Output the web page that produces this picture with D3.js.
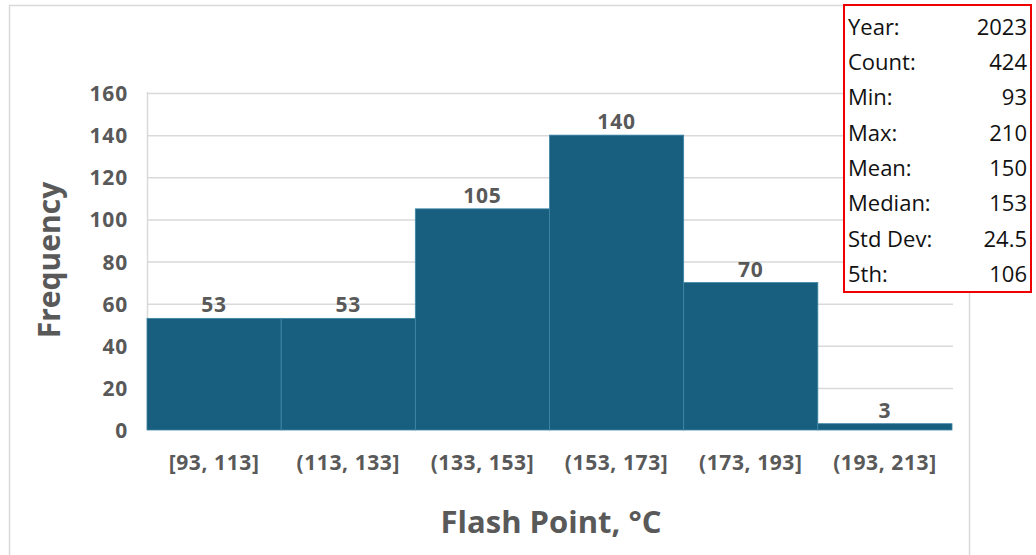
<!DOCTYPE html>
<html><head><meta charset="utf-8">
<script src="https://cdn.jsdelivr.net/npm/d3@7"></script>
<style>
html,body{margin:0;padding:0;background:#fff;}
svg{display:block;}
</style></head>
<body>
<svg id="chart" width="1036" height="555"></svg>
<script>
const categories = ["[93, 113]", "(113, 133]", "(133, 153]", "(153, 173]", "(173, 193]", "(193, 213]"];
const frequencies = [53, 53, 105, 140, 70, 3];
const yTicks = [0, 20, 40, 60, 80, 100, 120, 140, 160];
const statLabels = ["Year:", "Count:", "Min:", "Max:", "Mean:", "Median:", "Std Dev:", "5th:"];
const statValues = ["2023", "424", "93", "210", "150", "153", "24.5", "106"];

const svg = d3.select("#chart");
const grey = "#595959";
const barColor = "#185f7f";
const font = "'Open Sans', sans-serif";

// outer chart border
svg.append("rect").attr("x", 9.5).attr("y", 5.5).attr("width", 960).attr("height", 560)
  .attr("fill", "none").attr("stroke", "#d9d9d9").attr("stroke-width", 1.5);

const x = d3.scaleBand().domain(categories).range([147, 952]).padding(0);
const y = d3.scaleLinear().domain([0, 160]).range([430, 93]);

// gridlines
svg.append("g").selectAll("line").data(yTicks.filter(d => d > 0)).join("line")
  .attr("x1", 147).attr("x2", 953)
  .attr("y1", d => y(d) + 0.5).attr("y2", d => y(d) + 0.5)
  .attr("stroke", "#d9d9d9").attr("stroke-width", 1.5);

// left axis line
svg.append("line").attr("x1", 147.5).attr("x2", 147.5).attr("y1", 92).attr("y2", 430)
  .attr("stroke", "#d9d9d9").attr("stroke-width", 1.5);

// y axis
const yAxis = d3.axisLeft(y).tickValues(yTicks).tickSize(0).tickPadding(0);
const gy = svg.append("g").attr("transform", "translate(128,0)").call(yAxis);
gy.select(".domain").remove();
gy.selectAll("text").attr("font-family", font).attr("font-weight", "bold")
  .attr("font-size", 21).attr("letter-spacing", 0.8).attr("fill", grey).attr("dy", "0.36em");

// bars
svg.append("g").selectAll("rect").data(frequencies).join("rect")
  .attr("x", (d, i) => x(categories[i]))
  .attr("y", d => y(d))
  .attr("width", x.bandwidth())
  .attr("height", d => y(0) - y(d))
  .attr("fill", barColor)
  .attr("stroke", "#3f86a6").attr("stroke-width", 0.8);

// bar labels
svg.append("g").selectAll("text").data(frequencies).join("text")
  .attr("x", (d, i) => x(categories[i]) + x.bandwidth() / 2)
  .attr("y", d => y(d) - 6)
  .attr("text-anchor", "middle")
  .attr("font-family", font).attr("font-weight", "bold")
  .attr("font-size", 21).attr("letter-spacing", 0.8).attr("fill", grey)
  .text(d => d);

// x axis
const xAxis = d3.axisBottom(x).tickSize(0).tickPadding(0);
const gx = svg.append("g").attr("transform", "translate(0,455)").call(xAxis);
gx.select(".domain").remove();
gx.selectAll("text").attr("font-family", font)
  .attr("font-weight", "bold").attr("font-size", 21).attr("letter-spacing", 0.6)
  .attr("fill", grey).attr("dy", "0.71em");

// axis titles
svg.append("text").attr("transform", "translate(60,260) rotate(-90)")
  .attr("text-anchor", "middle")
  .attr("font-family", font).attr("font-weight", "bold")
  .attr("font-size", 30).attr("fill", grey).text("Frequency");

svg.append("text").attr("x", 551).attr("y", 533)
  .attr("text-anchor", "middle")
  .attr("font-family", font).attr("font-weight", "bold")
  .attr("font-size", 31).attr("fill", grey).text("Flash Point, °C");

// stats box
const box = svg.append("g");
box.append("rect").attr("x", 844).attr("y", 5).attr("width", 187).attr("height", 287)
  .attr("fill", "#fff").attr("stroke", "#ee0000").attr("stroke-width", 2);
const rowY = d3.scaleLinear().domain([0, 7]).range([27, 274]);
box.selectAll("text.lab").data(statLabels).join("text").attr("class", "lab")
  .attr("x", 848).attr("y", (d, i) => rowY(i)).attr("dy", "0.36em")
  .attr("font-family", font).attr("font-size", 22).attr("fill", "#111")
  .text(d => d);
box.selectAll("text.val").data(statValues).join("text").attr("class", "val")
  .attr("x", 1027).attr("y", (d, i) => rowY(i)).attr("dy", "0.36em")
  .attr("text-anchor", "end")
  .attr("font-family", font).attr("font-size", 22).attr("fill", "#111")
  .text(d => d);
</script>
</body></html>
